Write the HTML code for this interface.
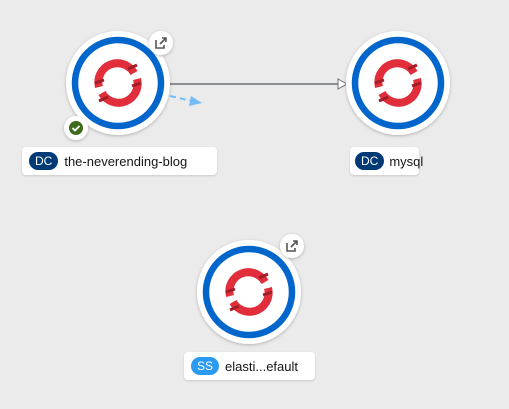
<!DOCTYPE html>
<html><head><style>
body{margin:0;background:#ebebeb;font-family:"Liberation Sans",sans-serif;}
.lbl{position:absolute;height:28px;background:#fff;border-radius:4px;box-shadow:0 1px 2px rgba(0,0,0,.15);display:flex;align-items:center;font-size:13px;color:#151515;white-space:nowrap;}
.b{display:inline-block;height:18px;line-height:18px;border-radius:9px;color:#fff;font-size:12px;padding:0 6px;margin:0 6px 0 7px;}
</style></head><body>
<svg width="509" height="409" style="position:absolute;left:0;top:0">
<defs>
<filter id="s" x="-20%" y="-20%" width="140%" height="140%"><feDropShadow dx="0" dy="1" stdDeviation="1.5" flood-opacity=".25"/></filter>
<g id="logo">
<path d="M-19,4 A19,19 0 0 1 16,-10" fill="none" stroke="#e12e3a" stroke-width="8"/>
<path d="M19,-4 A19,19 0 0 1 -16,10" fill="none" stroke="#e12e3a" stroke-width="8"/>
<path d="M10,-14 l9,-4 M-10,14 l-9,4 M14,3 l9,-3 M-14,-3 l-9,3" stroke="#a11d27" stroke-width="3"/>
</g>
<g id="node">
<circle r="52" fill="#fff" filter="url(#s)"/>
<circle r="43" fill="none" stroke="#0066cc" stroke-width="6.5"/>
<use href="#logo"/>
</g>
<g id="ext">
<circle r="12" fill="#fff" filter="url(#s)"/>
<path d="M-5,-3 v8 h8 v-3" fill="none" stroke="#555" stroke-width="1.6"/>
<path d="M-1,1 L5,-5 M1,-5 h4 v4" fill="none" stroke="#555" stroke-width="1.6"/>
</g>
</defs>
<line x1="170" y1="84" x2="338" y2="84" stroke="#6a6e73" stroke-width="1.5"/>
<path d="M338,79 L347,84 L338,89 Z" fill="#fff" stroke="#6a6e73"/>
<line x1="170" y1="96" x2="192" y2="101" stroke="#73bcf7" stroke-width="2" stroke-dasharray="6,4"/>
<path d="M191,96 L202,103 L189,106 Z" fill="#73bcf7"/>
<use href="#node" x="118" y="83"/>
<use href="#node" x="398" y="83"/>
<use href="#node" x="249" y="292"/>
<use href="#ext" x="161" y="43"/>
<use href="#ext" x="292" y="246"/>
<circle cx="76" cy="128" r="12" fill="#fff" filter="url(#s)"/>
<circle cx="76" cy="128" r="7" fill="#3e6b1e"/>
<path d="M72.5,128 l2.5,2.5 l4.5,-4.5" fill="none" stroke="#fff" stroke-width="1.8"/>
</svg>
<div class="lbl" style="left:22px;top:147px;width:195px"><span class="b" style="background:#003a75">DC</span>the-neverending-blog</div>
<div class="lbl" style="left:350px;top:147px;width:69px"><span class="b" style="background:#003a75;margin-left:5px;margin-right:5px">DC</span>mysql</div>
<div class="lbl" style="left:184px;top:352px;width:131px"><span class="b" style="background:#2b9af3">SS</span>elasti...efault</div>
</body></html>
